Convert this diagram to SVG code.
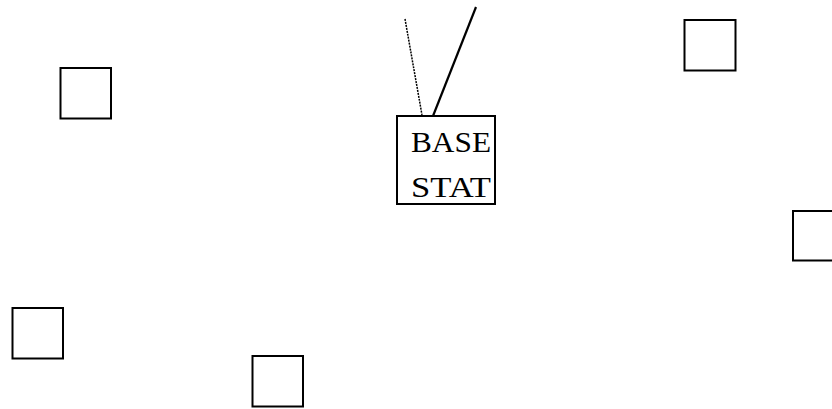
<svg xmlns="http://www.w3.org/2000/svg" width="832" height="409" viewBox="0 0 832 409">
<style>
.n{fill:#fff;stroke:#000;stroke-width:2}
.t{font-family:"Liberation Serif","DejaVu Serif",serif;font-size:30px;fill:#000}
</style>
<rect width="832" height="409" fill="#fff"/>
<g id="connectors">
<line x1="405" y1="19" x2="422" y2="115" stroke="#000" stroke-width="1.5" stroke-dasharray="2,1"/>
<line x1="476" y1="7" x2="433" y2="116" stroke="#000" stroke-width="2.2"/>
</g>
<g id="n1"><rect class="n" x="60.5" y="68" width="50.5" height="50.5"/></g>
<g id="n2"><rect class="n" x="684.5" y="20" width="51" height="50.5"/></g>
<g id="n3"><rect class="n" x="793" y="211" width="50" height="49.5"/></g>
<g id="n4"><rect class="n" x="12.5" y="308" width="50.5" height="50.5"/></g>
<g id="n5"><rect class="n" x="252.5" y="356" width="50.5" height="50.5"/></g>
<g id="base">
<rect class="n" x="397" y="116" width="98" height="88"/>
<text class="t" x="411" y="152" textLength="80" lengthAdjust="spacingAndGlyphs">BASE</text>
<text class="t" x="411" y="197" textLength="80" lengthAdjust="spacingAndGlyphs">STAT</text>
</g>
</svg>
